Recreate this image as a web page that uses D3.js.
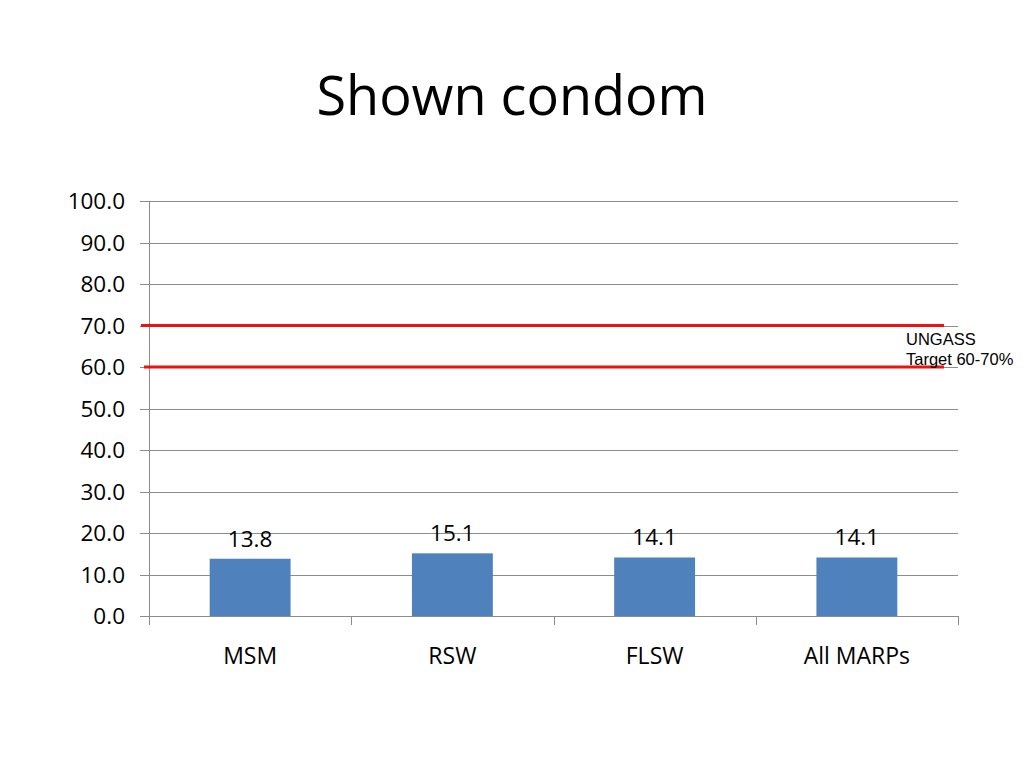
<!DOCTYPE html>
<html><head><meta charset="utf-8">
<script src="https://cdn.jsdelivr.net/npm/d3@7"></script>
<style>body{margin:0;background:#fff}</style>
</head><body>
<script>
const categories = ["MSM", "RSW", "FLSW", "All MARPs"];
const values = [13.8, 15.1, 14.1, 14.1];
const yTicks = [0, 10, 20, 30, 40, 50, 60, 70, 80, 90, 100];
const targetLines = [70, 60];
const title = "Shown condom";
const noteLines = ["UNGASS", "Target 60-70%"];

const W = 1024, H = 768;
const svg = d3.select("body").append("svg").attr("width", W).attr("height", H);
const pLeft = 149, pRight = 958, pTop = 201, pBottom = 616;
const font = "'Open Sans', Lato, sans-serif";

const x = d3.scaleBand().domain(categories).range([pLeft, pRight]);
const y = d3.scaleLinear().domain([0, 100]).range([pBottom, pTop]);

svg.append("text").attr("x", 512).attr("y", 115).attr("text-anchor", "middle")
  .style("font-family", font).style("font-size", "54px").attr("fill", "#000").text(title);

// gridlines
svg.append("g").selectAll("line").data(yTicks).join("line")
  .attr("x1", pLeft - 9).attr("x2", pRight)
  .attr("y1", d => Math.round(y(d)) + 0.5).attr("y2", d => Math.round(y(d)) + 0.5)
  .attr("stroke", "#8c8c8c").attr("stroke-width", 1);

// y axis labels
svg.append("g").selectAll("text").data(yTicks).join("text")
  .attr("x", 125).attr("y", d => y(d) + 8).attr("text-anchor", "end")
  .style("font-family", font).style("font-size", "22.5px").attr("fill", "#000")
  .text(d => d.toFixed(1));

// y axis line
svg.append("line").attr("x1", pLeft + 0.5).attr("x2", pLeft + 0.5).attr("y1", pTop).attr("y2", pBottom + 8)
  .attr("stroke", "#8c8c8c");

// x axis tick marks
const xb = categories.map(c => x(c)).concat([pRight]);
svg.append("g").selectAll("line").data(xb).join("line")
  .attr("x1", d => Math.round(d) + 0.5).attr("x2", d => Math.round(d) + 0.5)
  .attr("y1", pBottom).attr("y2", pBottom + 9).attr("stroke", "#8c8c8c");

// bars
const bw = x.bandwidth() * 0.4;
svg.append("g").selectAll("rect").data(values).join("rect")
  .attr("x", (d, i) => x(categories[i]) + x.bandwidth() / 2 - bw / 2)
  .attr("width", bw)
  .attr("y", d => y(d)).attr("height", d => pBottom - y(d))
  .attr("fill", "#4f81bd");

// value labels
svg.append("g").selectAll("text").data(values).join("text")
  .attr("x", (d, i) => x(categories[i]) + x.bandwidth() / 2)
  .attr("y", d => y(d) - 12).attr("text-anchor", "middle")
  .style("font-family", font).style("font-size", "22.5px").attr("fill", "#000")
  .text(d => d.toFixed(1));

// category labels
svg.append("g").selectAll("text").data(categories).join("text")
  .attr("x", d => x(d) + x.bandwidth() / 2).attr("y", 664).attr("text-anchor", "middle")
  .style("font-family", font).style("font-size", "23px").attr("fill", "#000")
  .text(d => d);

// red target lines
svg.append("g").selectAll("line").data(targetLines).join("line")
  .attr("x1", (d, i) => i === 0 ? 141 : 144).attr("x2", 944)
  .attr("y1", d => y(d)).attr("y2", d => y(d))
  .attr("stroke", "#ee1111").attr("stroke-width", 3);

// note
svg.append("g").selectAll("text").data(noteLines).join("text")
  .attr("x", 906).attr("y", (d, i) => 345 + i * 20)
  .style("font-family", "'Liberation Sans', Arial, sans-serif").style("font-size", "16.5px").attr("fill", "#000")
  .text(d => d);
</script>
</body></html>
